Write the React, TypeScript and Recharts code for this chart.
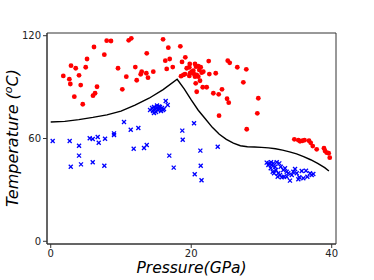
import React from "react";
import { ScatterChart, Scatter, XAxis, YAxis, ReferenceArea } from "recharts";

// red circles (above the boundary)
const redX = [1.79, 2.65, 2.79, 2.89, 3.56, 4.03, 4.27, 3.36, 4.56, 4.98, 5.17, 6.16, 6.59, 6.31, 6.02, 7.63, 7.97, 8.58, 9.58, 10.19, 10.76, 11.1, 11.47, 12.04, 12.24, 12.81, 12.95, 13.61, 13.85, 13.67, 14.6, 15.99, 16.74, 16.31, 16.94, 16.51, 17.37, 18.45, 19.16, 18.69, 19.79, 19.73, 19.36, 20.54, 20.68, 21.01, 21.35, 21.15, 20.3, 20.07, 19.12, 18.88, 19.83, 20.4, 20.78, 21.49, 21.72, 20.54, 19.73, 21.01, 22.58, 22.49, 23.49, 21.25, 21.64, 22.2, 20.78, 23.15, 23.91, 24.38, 25.1, 25.34, 25.2, 25.48, 26.56, 27.84, 27.42, 23.96, 29.41, 29.55, 27.9, 20.64, 18.55, 34.68, 35.25, 35.49, 35.84, 36.13, 36.77, 37.01, 37.3, 37.86, 38.9, 39.05, 39.29, 39.57, 39.72];
const redY = [96.5, 94.6, 91.8, 102.5, 101, 96.9, 91.2, 84.4, 80, 101.6, 106.4, 113.4, 90.2, 86.4, 85, 108.9, 117.1, 116.9, 101, 88.7, 96.1, 117.3, 118.5, 101.7, 94, 97.5, 99, 98.1, 95.5, 109.7, 99, 117.9, 113, 105.4, 106.4, 100.6, 101.7, 113.8, 107.4, 104.7, 103.5, 101.6, 101, 103.5, 101.9, 102.3, 101.6, 100, 99.6, 99, 97.6, 97.1, 98.1, 97.6, 97.1, 98.4, 99, 96.1, 96.5, 96.1, 97.6, 105.2, 98.1, 93.7, 89.9, 89.9, 87.3, 86.4, 85.8, 88.7, 83.2, 80.9, 105.4, 104.2, 101.6, 100.4, 92.8, 73.3, 74.7, 83.5, 65.4, 92.2, 96.4, 59.5, 59, 58.4, 58.7, 59, 58.7, 57.5, 55.6, 53.7, 54.3, 52.7, 51.7, 51.4, 48.8];

// blue crosses (below the boundary)
const blueX = [0.28, 2.7, 4.03, 4.03, 2.85, 4.31, 5.55, 5.98, 6.69, 6.83, 5.98, 7.73, 7.63, 9.01, 9.01, 10.43, 11.39, 12.47, 11.81, 13.28, 13.67, 16.88, 17.51, 18.73, 18.79, 20.4, 21.3, 21.35, 20.5, 21.47, 23.77, 16.37, 16.65, 14.14, 14.42, 14.56, 14.7, 14.85, 14.99, 15.13, 15.27, 15.41, 15.55, 15.7, 15.84, 15.98, 16.12, 14.7, 15.13, 15.55, 30.75, 31.07, 31.36, 30.98, 31.46, 31.69, 32.17, 32.54, 31.93, 31.6, 32.07, 32.4, 32.64, 32.88, 33.11, 33.35, 33.59, 33.82, 34.06, 34.53, 34.78, 35.02, 35.39, 35.25, 35.73, 36.34, 36.53, 36.91, 37.15, 37.38, 32.74, 33.21, 34.31, 35.96, 32.31, 33.59, 31.32, 31.79];
const blueY = [58.5, 58.5, 55.8, 50, 43.5, 44.9, 60.1, 59.7, 60.9, 57.5, 46.1, 59.9, 44.1, 63, 62, 69.6, 65.1, 66.1, 54, 54.5, 56.2, 50, 43, 64.6, 59.3, 68.9, 52.9, 44.1, 39.1, 35.6, 55.2, 81.9, 79.6, 76.6, 77.8, 76.1, 78.4, 77.2, 75.5, 77.8, 76.6, 78.7, 77.2, 76.1, 77.8, 76.6, 77.2, 74.9, 79.3, 78.4, 45.9, 45.5, 46.1, 44.5, 44.5, 45.5, 46.1, 45.5, 43.5, 40.6, 41.6, 39.7, 38.7, 37.4, 41.6, 42.6, 40.6, 39.7, 35.4, 40.6, 42.2, 39.7, 37.4, 36.2, 41, 41.2, 37.7, 39.7, 38.7, 39.3, 43.5, 37.7, 38.7, 36.8, 37.7, 37.7, 42.6, 39.7];

// boundary curve
const curveX = [0, 2, 4, 6, 8, 10, 12, 14, 16, 18, 19, 20, 21, 22, 23, 24, 25, 26, 27, 28, 29, 30, 31, 32, 33, 34, 35, 36, 37, 38, 39, 39.6];
const curveY = [69.6, 70, 71, 72.3, 73.8, 76, 79.5, 83.5, 88.5, 94.6, 89, 82.5, 76.5, 71.5, 66.5, 62.5, 59.5, 57.3, 55.8, 55.2, 55, 54.8, 54.5, 54, 53.2, 52.2, 51, 49.4, 47.6, 45.5, 43, 41];

const xTicks = [0, 20, 40];
const yTicks = [0, 60, 120];

const zip = (xs: number[], ys: number[]) => xs.map((x, i) => ({ x, y: ys[i] }));
const redData = zip(redX, redY);
const blueData = zip(blueX, blueY);
const curveData = zip(curveX, curveY);

const FONT = "'DejaVu Sans', sans-serif";

const RedDot = (p: any) => <circle cx={p.cx} cy={p.cy} r={2.4} fill="#ff0000" />;

const BlueCross = (p: any) => (
    <g stroke="#0000ff" strokeWidth={1.3}>
        <line x1={p.cx - 2} y1={p.cy - 2} x2={p.cx + 2} y2={p.cy + 2} />
        <line x1={p.cx - 2} y1={p.cy + 2} x2={p.cx + 2} y2={p.cy - 2} />
    </g>
);

const YLabel = () => (
    <text
        transform="translate(18, 138) rotate(-90)"
        textAnchor="middle"
        fontFamily={FONT}
        fontStyle="italic"
        fontSize={16}
        fill="#000"
    >
        Temperature (<tspan fontSize={11} dy={-6}>o</tspan>
        <tspan dy={6}>C)</tspan>
    </text>
);

const XLabel = () => (
    <text
        x={191.5}
        y={273}
        textAnchor="middle"
        fontFamily={FONT}
        fontStyle="italic"
        fontSize={15.5}
        fill="#000"
    >
        Pressure(GPa)
    </text>
);

export default function App() {
    return (
        <div style={{ position: "absolute", left: 0, top: 0 }}>
            <ScatterChart width={374} height={280} margin={{ top: 33, right: 38, bottom: 0, left: 0 }}>
                <XAxis
                    type="number"
                    dataKey="x"
                    domain={[-0.53, 40.61]}
                    allowDataOverflow
                    ticks={xTicks}
                    height={36}
                    tickSize={4}
                    tickMargin={2}
                    stroke="#333"
                    tick={{ fill: "#222", fontSize: 10, fontFamily: FONT }}
                    label={XLabel}
                />
                <YAxis
                    type="number"
                    dataKey="y"
                    domain={[-1.58, 121.58]}
                    allowDataOverflow
                    ticks={yTicks}
                    width={47}
                    tickSize={4}
                    tickMargin={2}
                    stroke="#333"
                    tick={{ fill: "#222", fontSize: 10, fontFamily: FONT }}
                    label={YLabel}
                />
                <ReferenceArea
                    x1={-0.53}
                    x2={40.61}
                    y1={-1.58}
                    y2={121.58}
                    fill="none"
                    stroke="#333"
                    strokeWidth={1}
                    ifOverflow="visible"
                />
                <Scatter data={redData} shape={RedDot} isAnimationActive={false} />
                <Scatter data={blueData} shape={BlueCross} isAnimationActive={false} />
                <Scatter
                    data={curveData}
                    shape={() => <g />}
                    line={{ stroke: "#000", strokeWidth: 1.4 }}
                    lineType="joint"
                    isAnimationActive={false}
                />
            </ScatterChart>
        </div>
    );
}
